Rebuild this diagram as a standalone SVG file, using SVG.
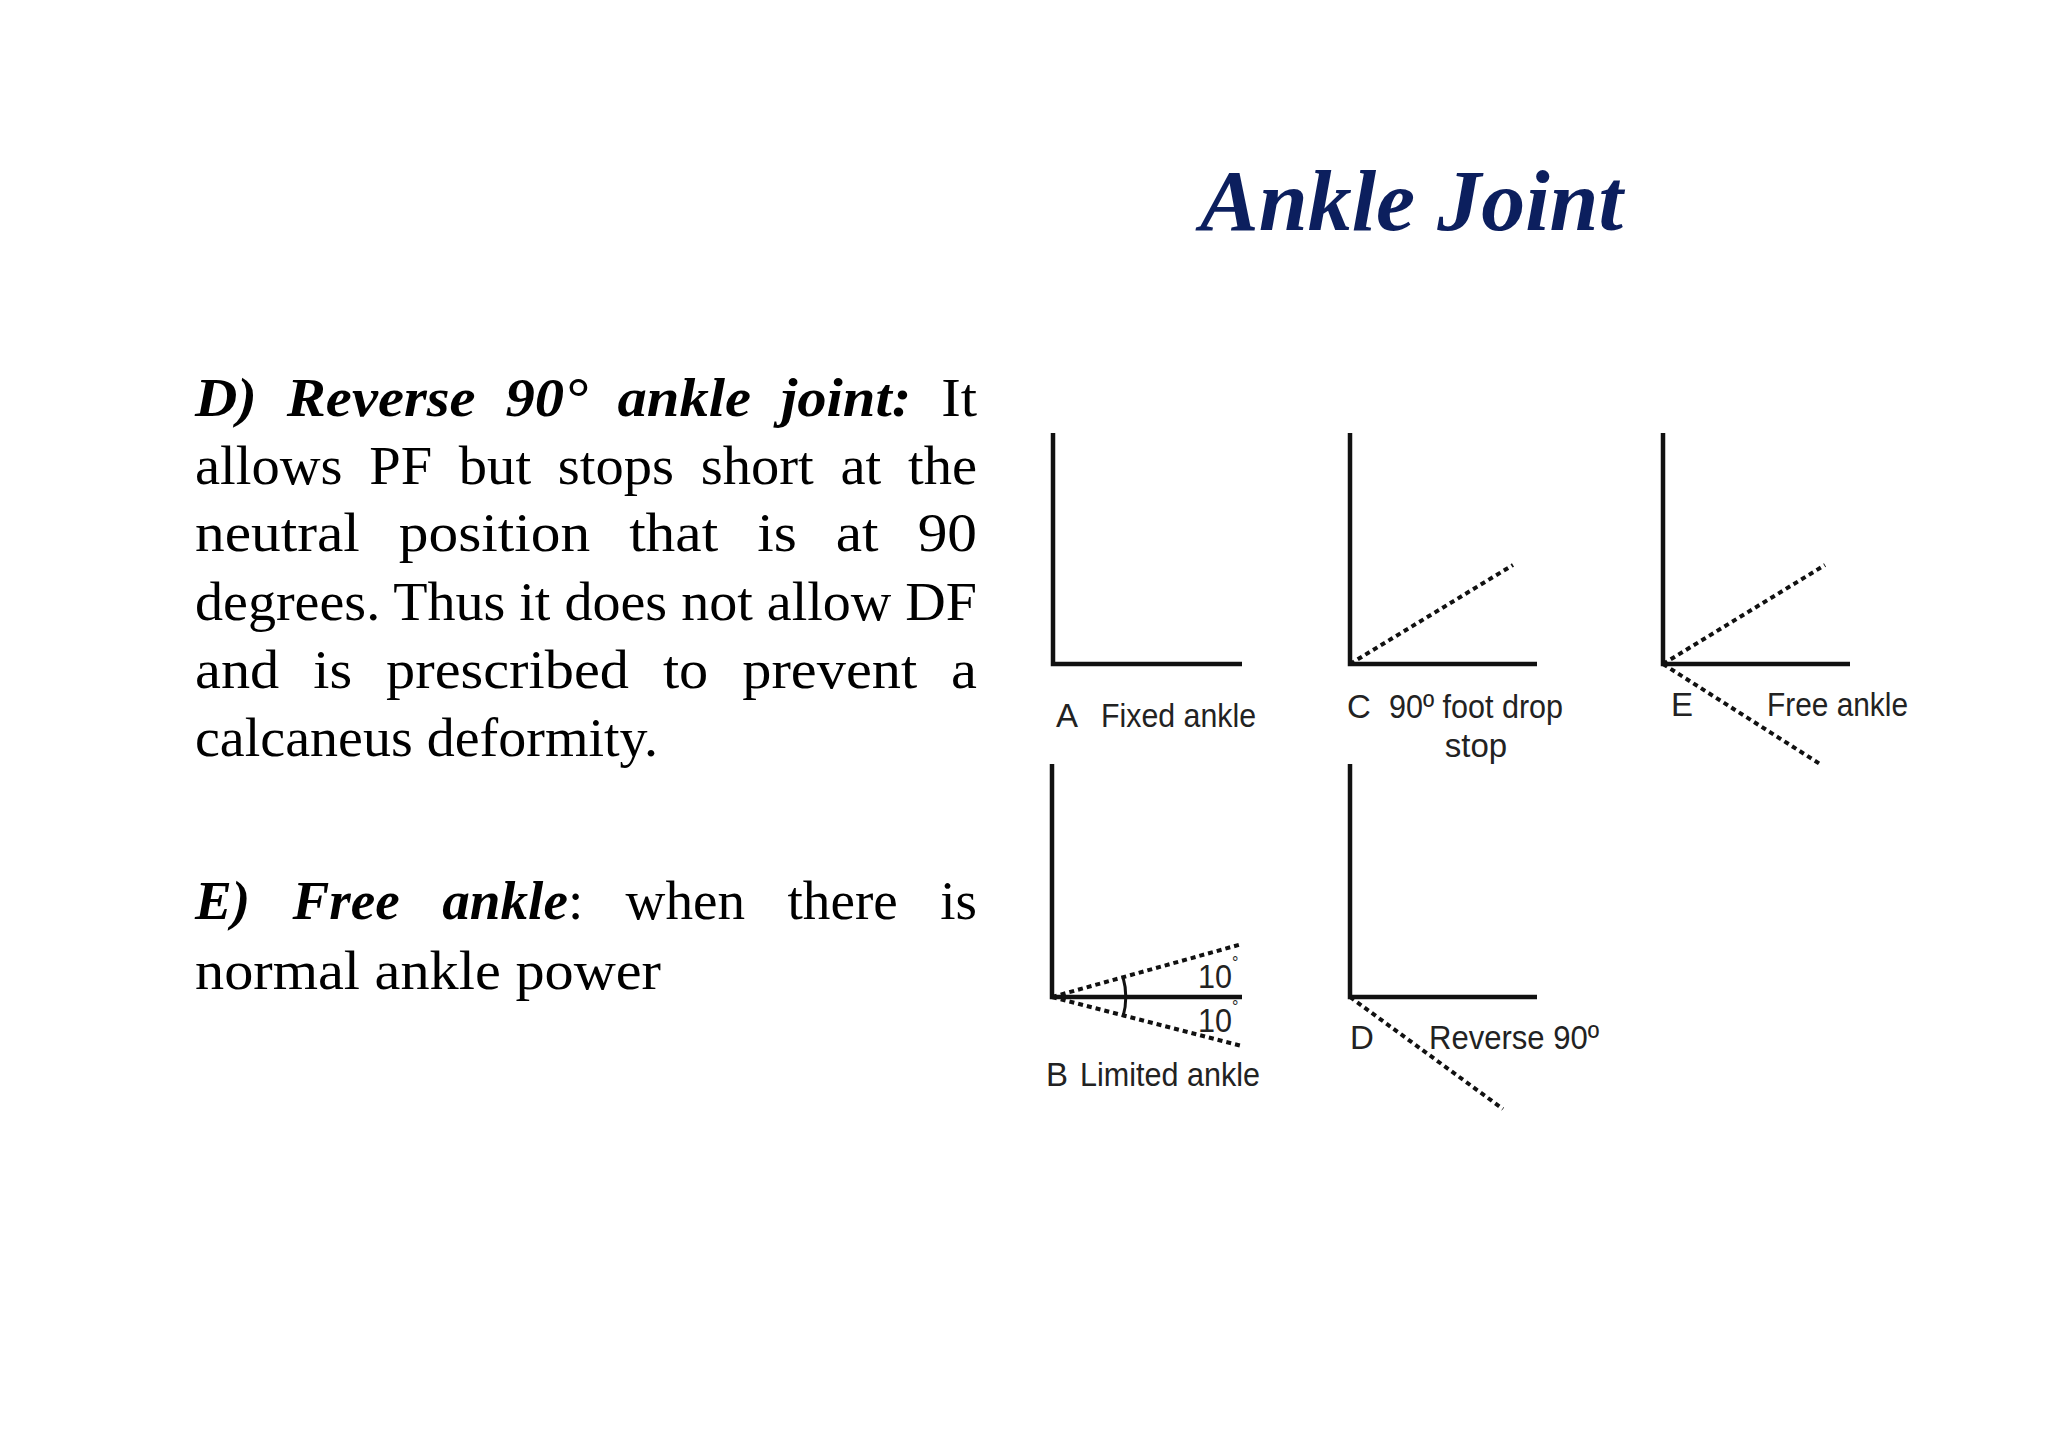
<svg xmlns="http://www.w3.org/2000/svg" width="2048" height="1447" viewBox="0 0 2048 1447">
<style>
.t{font-family:"Liberation Serif","Times New Roman",serif;font-size:54px;fill:#000}
.bi{font-weight:bold;font-style:italic}
.l{font-family:"Liberation Sans",Arial,sans-serif;font-size:33px;fill:#222}
.s{stroke:#111;stroke-width:4.5;fill:none}
.d{stroke:#111;stroke-width:4;fill:none;stroke-dasharray:5 4}
</style>
<rect width="2048" height="1447" fill="#fff"/>
<text x="1200" y="230" font-family="Liberation Serif,serif" font-size="86" font-weight="bold" font-style="italic" fill="#0c1f5e" textLength="423" lengthAdjust="spacingAndGlyphs">Ankle Joint</text>
<g id="text" transform="translate(-3,-3)">
<text class="t" y="419" x="198" textLength="782" lengthAdjust="spacingAndGlyphs" word-spacing="14"><tspan class="bi">D) Reverse 90° ankle joint:</tspan> It</text>
<text class="t" x="198" y="487" textLength="782" lengthAdjust="spacingAndGlyphs" word-spacing="12">allows PF but stops short at the</text>
<text class="t" x="198" y="554" textLength="782" lengthAdjust="spacingAndGlyphs" word-spacing="22">neutral position that is at 90</text>
<text class="t" x="198" y="623" textLength="782" lengthAdjust="spacingAndGlyphs">degrees. Thus it does not allow DF</text>
<text class="t" x="198" y="691" textLength="782" lengthAdjust="spacingAndGlyphs" word-spacing="18">and is prescribed to prevent a</text>
<text class="t" x="198" y="759" textLength="463" lengthAdjust="spacingAndGlyphs">calcaneus deformity.</text>
<text class="t" y="922" x="198" textLength="782" lengthAdjust="spacingAndGlyphs" word-spacing="28"><tspan class="bi">E) Free ankle</tspan>: when there is</text>
<text class="t" x="198" y="992" textLength="466" lengthAdjust="spacingAndGlyphs">normal ankle power</text>
</g>
<g transform="translate(-8,-4)">
<g id="diagA">
<path class="s" d="M1061 437V668H1250"/>
<text class="l" x="1064" y="731">A</text><text class="l" x="1109" y="731" textLength="155" lengthAdjust="spacingAndGlyphs">Fixed ankle</text>
</g>
<g id="diagC">
<path class="s" d="M1358 437V668H1545"/>
<path class="d" d="M1358 668L1521 569"/>
<text class="l" x="1355" y="722">C</text><text class="l" x="1397" y="722" textLength="174" lengthAdjust="spacingAndGlyphs">90º foot drop</text>
<text class="l" x="1484" y="761" text-anchor="middle">stop</text>
</g>
<g id="diagE">
<path class="s" d="M1671 437V668H1858"/>
<path class="d" d="M1671 668L1833 569M1671 668L1828 768"/>
<text class="l" x="1679" y="720">E</text><text class="l" x="1775" y="720" textLength="141" lengthAdjust="spacingAndGlyphs">Free ankle</text>
</g>
<g id="diagB">
<path class="s" d="M1060 768V1001H1250"/>
<path class="d" d="M1060 1001L1250 948M1060 1001L1250 1050"/>
<path class="s" style="stroke-width:3" d="M1131 981A74 74 0 0 1 1131 1021"/>
<text class="l" x="1206" y="992" textLength="34" lengthAdjust="spacingAndGlyphs">10</text><text class="l" x="1240" y="972" style="font-size:16px">°</text>
<text class="l" x="1206" y="1036" textLength="34" lengthAdjust="spacingAndGlyphs">10</text><text class="l" x="1240" y="1016" style="font-size:16px">°</text>
<text class="l" x="1054" y="1090">B</text><text class="l" x="1088" y="1090" textLength="180" lengthAdjust="spacingAndGlyphs">Limited ankle</text>
</g>
<g id="diagD">
<path class="s" d="M1358 768V1001H1545"/>
<path class="d" d="M1358 1001L1511 1113"/>
<text class="l" x="1358" y="1053">D</text><text class="l" x="1437" y="1053" textLength="170" lengthAdjust="spacingAndGlyphs">Reverse 90º</text>
</g>
</g>
</svg>
